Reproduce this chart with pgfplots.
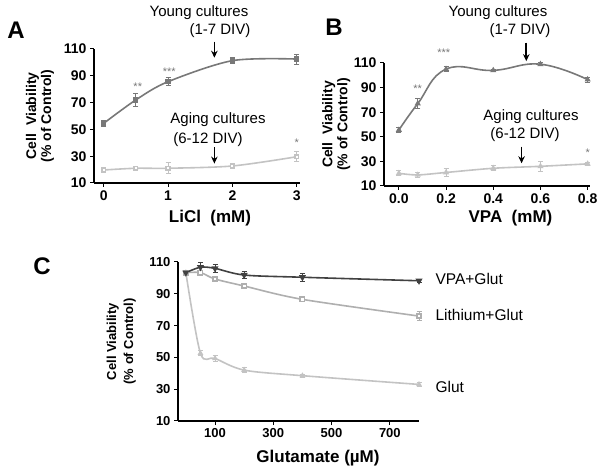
\documentclass[border=0pt]{standalone}
\usepackage{fontspec}
\setmainfont{Liberation Sans}
\usepackage{pgfplots}
\pgfplotsset{compat=1.18}
\usetikzlibrary{arrows.meta}
\definecolor{young}{RGB}{120,120,120}
\definecolor{aging}{RGB}{195,195,195}
\definecolor{vpa}{RGB}{65,65,65}
\definecolor{lith}{RGB}{175,175,175}
\definecolor{glut}{RGB}{195,195,195}
\pgfplotsset{
  panel/.style={
    scale only axis, axis lines=left,
    axis line style={-, line width=1.3pt},
    tick align=outside, major tick length=4pt,
    tick style={line width=1pt, black},
    ymin=10, ymax=110, ytick={10,30,50,70,90,110},
    clip=false,
    /pgf/number format/assume math mode=true,
    ticklabel style={font=\bfseries\fontsize{14}{14}\selectfont},
    ylabel style={font=\bfseries\fontsize{14}{15}\selectfont, align=center},
    xlabel style={font=\bfseries\fontsize{17}{17}\selectfont},
  },
  eb/.style={error bars/.cd, y dir=both, y explicit,
    error bar style={line width=1pt},
    error mark options={rotate=90, mark size=2.5pt, line width=1pt}},
}
\pgfplotstableread{
x y e
0 54.5 2.5
0.5 72 5
1 85.6 3.2
2 101.3 2.2
3 102.5 3.7
}\Ayoung
\pgfplotstableread{
x y e
0 19.7 1
0.5 21 1
1 21 4.2
2 22.7 1
3 29.6 3.7
}\Aaging
\pgfplotstableread{
x y e
0 55.5 2
0.08 77 4
0.2 105 2
0.4 104 1
0.6 109 1
0.8 96.5 2
}\Byoung
\pgfplotstableread{
x y e
0 20.3 2
0.08 19 2
0.2 21 3
0.4 24.4 2
0.6 26 4
0.8 28 1
}\Baging
\pgfplotstableread{
x y e
0 103.3 1
50 106.7 3
100 106 2.5
200 101.8 2
400 100.4 2.5
800 98.2 1
}\Cvpa
\pgfplotstableread{
x y e
0 103.3 1
50 103.3 1
100 99.3 1.5
200 94.9 1.5
400 86.5 1.5
800 76 3
}\Clith
\pgfplotstableread{
x y e
0 103.3 1
50 52.6 1.5
100 49.4 2
200 42 1.5
400 38.5 1
800 33 1
}\Cglut
\begin{document}
\begin{tikzpicture}
\useasboundingbox (0pt,0pt) rectangle (604pt,473pt);
% Panel A
\begin{axis}[panel, at={(94pt,290pt)}, anchor=south west,
  width=206pt, height=134pt,
  xmin=-0.15, xmax=3.05, xtick={0,1,2,3},
  xlabel={LiCl\ \ (mM)}, ylabel={Cell\ \ Viability\\(\% of Control)},
  xlabel style={at={(axis description cs:0.563,-0.26)}, anchor=center},
  ylabel style={at={(axis description cs:-0.262,0.5)}, anchor=center},
]
\addplot[young, line width=1.6pt, smooth, mark=square*, mark size=1.8pt, mark options={solid}, eb] table[x=x,y=y,y error=e] {\Ayoung};
\addplot[aging, line width=1.6pt, smooth, mark=square*, mark size=1.8pt, mark options={fill=white}, eb] table[x=x,y=y,y error=e] {\Aaging};
\node[font=\fontsize{11}{11}\selectfont, young] at (axis cs:0.53,82) {**};
\node[font=\fontsize{11}{11}\selectfont, young] at (axis cs:1.02,93) {***};
\node[font=\fontsize{11}{11}\selectfont, young] at (axis cs:3,40) {*};
\draw[-{Stealth[length=7pt,width=6.5pt]}, line width=1.6pt] (axis cs:1.72,115.5) -- (axis cs:1.72,103.5);
\draw[-{Stealth[length=7pt,width=6.5pt]}, line width=1.6pt] (axis cs:1.72,36.5) -- (axis cs:1.72,24.5);
\end{axis}
% Panel B
\begin{axis}[panel, at={(384pt,287pt)}, anchor=south west,
  width=206pt, height=123pt,
  xmin=-0.063, xmax=0.81, xtick={0,0.2,0.4,0.6,0.8},
  xticklabels={0.0,0.2,0.4,0.6,0.8},
  xlabel={VPA\ \ (mM)}, ylabel={Cell\ \ Viability\\(\% of Control)},
  xlabel style={at={(axis description cs:0.614,-0.26)}, anchor=center},
  ylabel style={at={(axis description cs:-0.232,0.5)}, anchor=center},
]
\addplot[young, line width=1.6pt, smooth, tension=0.75, mark=triangle*, mark size=2pt, eb] table[x=x,y=y,y error=e] {\Byoung};
\addplot[aging, line width=1.6pt, smooth, mark=triangle*, mark size=2pt, eb] table[x=x,y=y,y error=e] {\Baging};
\node[font=\fontsize{11}{11}\selectfont, young] at (axis cs:0.08,89) {**};
\node[font=\fontsize{11}{11}\selectfont, young] at (axis cs:0.19,118) {***};
\node[font=\fontsize{11}{11}\selectfont, young] at (axis cs:0.8,37) {*};
\draw[-{Stealth[length=7pt,width=6.5pt]}, line width=1.6pt] (axis cs:0.54,126.5) -- (axis cs:0.54,111.5);
\draw[-{Stealth[length=7pt,width=6.5pt]}, line width=1.6pt] (axis cs:0.52,42) -- (axis cs:0.52,28.5);
\end{axis}
% Panel C
\begin{axis}[panel, at={(178pt,52pt)}, anchor=south west,
  width=241pt, height=159pt,
  xmin=-27, xmax=800, xtick={100,300,500,700},
  ticklabel style={font=\bfseries\fontsize{13}{13}\selectfont},
  xlabel={Glutamate (µM)}, ylabel={Cell Viability\\(\% of Control)},
  xlabel style={font=\bfseries\fontsize{17}{17}\selectfont, at={(axis description cs:0.581,-0.233)}, anchor=center},
  ylabel style={font=\bfseries\fontsize{13}{17}\selectfont, at={(axis description cs:-0.235,0.5)}, anchor=center},
]
\addplot[glut, line width=1.6pt, smooth, mark=triangle*, mark size=1.8pt, eb] table[x=x,y=y,y error=e] {\Cglut};
\addplot[lith, line width=1.6pt, smooth, mark=square*, mark size=2.2pt, mark options={fill=white}, eb] table[x=x,y=y,y error=e] {\Clith};
\addplot[vpa, line width=1.6pt, smooth, mark=triangle*, mark size=2.5pt, mark options={rotate=180}, eb] table[x=x,y=y,y error=e] {\Cvpa};
\end{axis}
% Annotations
\node[font=\bfseries\fontsize{24}{24}\selectfont] at (16pt,443pt) {A};
\node[font=\bfseries\fontsize{24}{24}\selectfont] at (334pt,446pt) {B};
\node[font=\bfseries\fontsize{24}{24}\selectfont] at (42pt,207pt) {C};
\node[font=\fontsize{15}{15}\selectfont] at (199pt,460pt) {Young cultures};
\node[font=\fontsize{15}{15}\selectfont] at (220pt,442pt) {(1-7 DIV)};
\node[font=\fontsize{15}{15}\selectfont] at (218pt,353pt) {Aging cultures};
\node[font=\fontsize{15}{15}\selectfont] at (208pt,333pt) {(6-12 DIV)};
\node[font=\fontsize{15}{15}\selectfont] at (498pt,460pt) {Young cultures};
\node[font=\fontsize{15}{15}\selectfont] at (520pt,442pt) {(1-7 DIV)};
\node[font=\fontsize{15}{15}\selectfont] at (531pt,356pt) {Aging cultures};
\node[font=\fontsize{15}{15}\selectfont] at (525pt,338pt) {(6-12 DIV)};
\node[font=\fontsize{15.5}{15.5}\selectfont, anchor=west] at (432pt,194pt) {VPA+Glut};
\node[font=\fontsize{15.5}{15.5}\selectfont, anchor=west] at (432pt,158pt) {Lithium+Glut};
\node[font=\fontsize{15.5}{15.5}\selectfont, anchor=west] at (432pt,86pt) {Glut};
\end{tikzpicture}
\end{document}
